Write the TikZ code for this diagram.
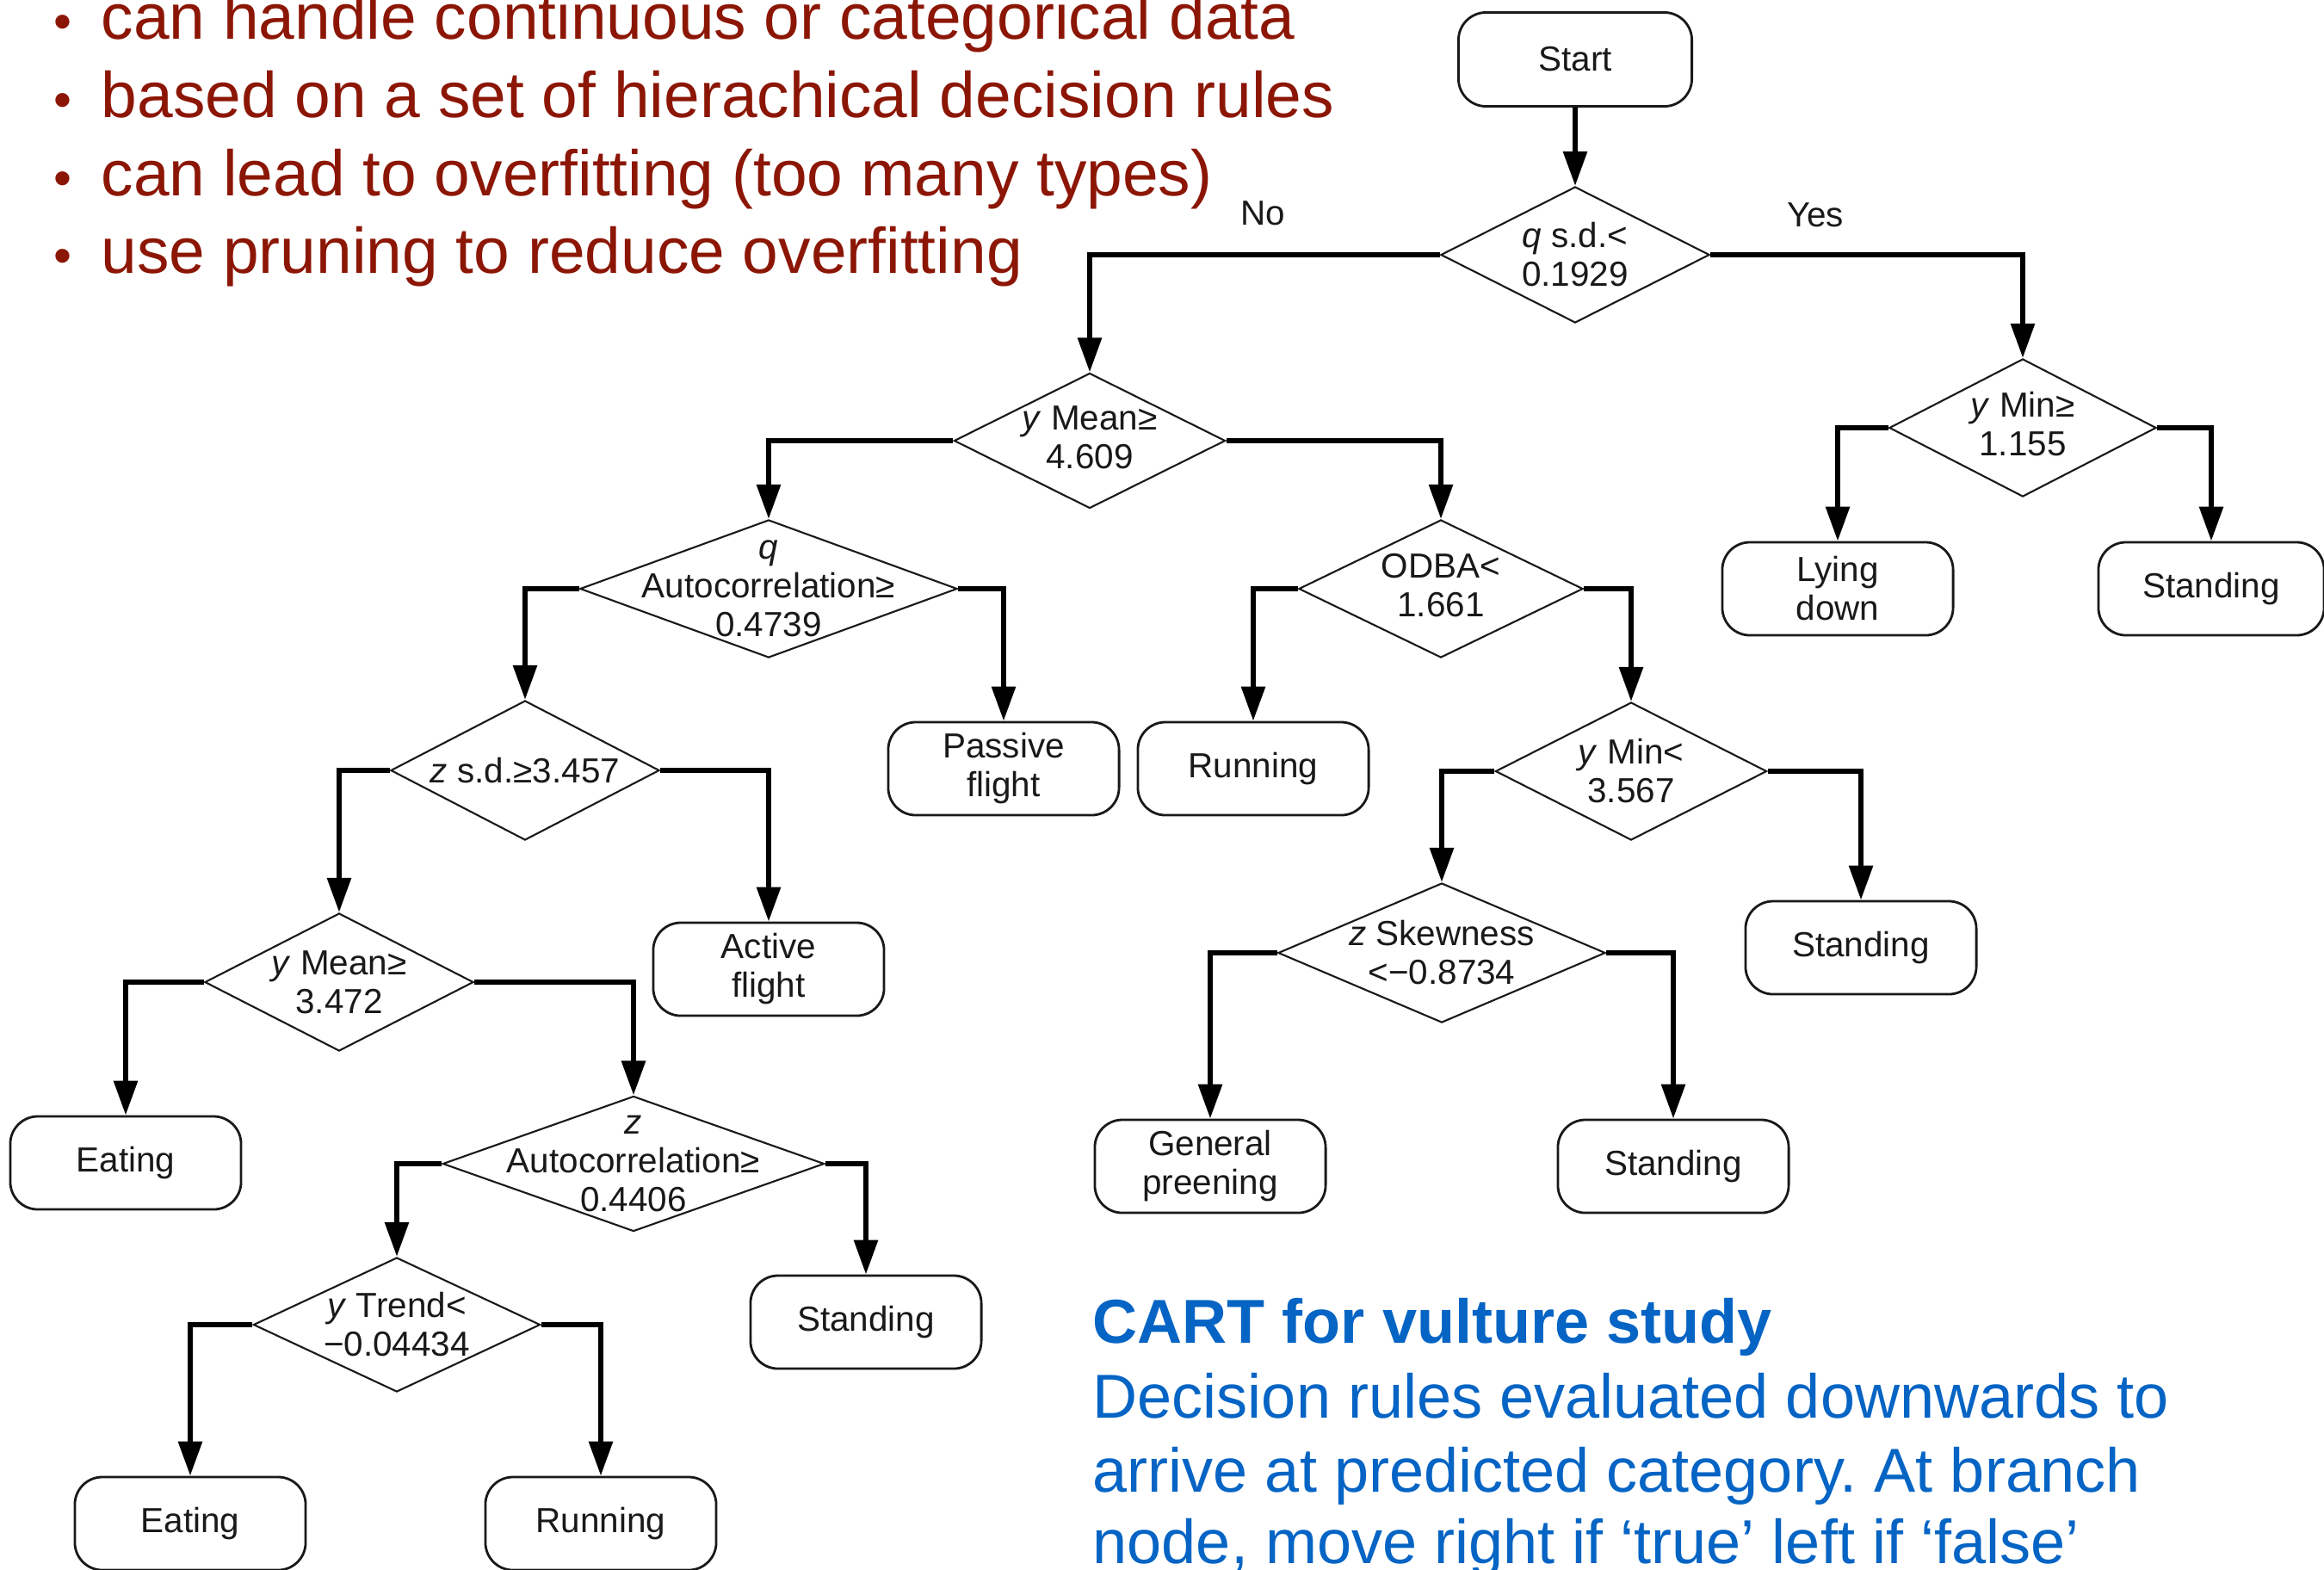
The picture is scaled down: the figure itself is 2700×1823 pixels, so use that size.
\documentclass[tikz,border=0pt]{standalone}
\usepackage{fontspec}
\setmainfont{Liberation Sans}
\usetikzlibrary{shapes.geometric,arrows.meta}
\frenchspacing

\definecolor{bulletred}{RGB}{140,22,5}
\definecolor{capblue}{RGB}{5,100,196}
\definecolor{ink}{RGB}{25,25,25}

\newcommand\diagfont{\fontsize{11.5pt}{12.8pt}\selectfont}
\newcommand\bulfont{\fontsize{21.3pt}{25pt}\selectfont}
\newcommand\capfont{\fontsize{20.5pt}{24.5pt}\selectfont}
\newcommand\dotmark{\makebox[0.58cm][l]{\hspace{0.03cm}\fontsize{17pt}{20pt}\selectfont•}}

\begin{document}
\begin{tikzpicture}[x=0.01cm,y=-0.01cm,
  dec/.style={draw=ink, line width=0.6pt, shape=diamond, inner sep=0pt},
  term/.style={draw=ink, line width=0.8pt, rounded corners=0.32cm,
    minimum width=2.68cm, minimum height=1.08cm, inner sep=0pt,
    align=center, font=\diagfont, text=ink},
  dtext/.style={align=center, font=\diagfont, text=ink, inner sep=0pt},
  link/.style={draw=black, line width=1.7pt,
    -{Triangle[length=0.40cm,width=0.27cm]}},
  bul/.style={anchor=base west, font=\bulfont, text=bulletred, inner sep=0pt},
  captext/.style={anchor=base west, font=\capfont, text=capblue, inner sep=0pt}
]
\useasboundingbox (0,0) rectangle (2700,1823);
\clip (0,0) rectangle (2700,1823);

% bullet list
\node[bul] (b1) at (59,45)  {\dotmark can handle continuous or categorical data};
\node[bul] (b2) at (59,136) {\dotmark based on a set of hierachical decision rules};
\node[bul] (b3) at (59,227) {\dotmark can lead to overfitting (too many types)};
\node[bul] (b4) at (59,317) {\dotmark use pruning to reduce overfitting};

% caption
\node[captext] (c1) at (1269,1560) {\textbf{CART for vulture study}};
\node[captext] (c2) at (1269,1647) {Decision rules evaluated downwards to};
\node[captext] (c3) at (1269,1733) {arrive at predicted category. At branch};
\node[captext] (c4) at (1269,1816) {node, move right if ‘true’ left if ‘false’};

% decision diamonds
\node[dec, minimum width=3.12cm, minimum height=1.58cm] (d1)     at (1830,296)  {};
\node[dec, minimum width=3.10cm, minimum height=1.60cm] (ymin1)  at (2350,497)  {};
\node[dec, minimum width=3.15cm, minimum height=1.57cm] (ymean1) at (1266,512)  {};
\node[dec, minimum width=4.38cm, minimum height=1.60cm] (qauto)  at (893,684)   {};
\node[dec, minimum width=3.30cm, minimum height=1.60cm] (odba)   at (1674,684)  {};
\node[dec, minimum width=3.12cm, minimum height=1.62cm] (zsd)    at (610,895)   {};
\node[dec, minimum width=3.15cm, minimum height=1.60cm] (ymin2)  at (1895,896)  {};
\node[dec, minimum width=3.12cm, minimum height=1.60cm] (ymean2) at (394,1141)  {};
\node[dec, minimum width=4.43cm, minimum height=1.57cm] (zauto)  at (736,1352)  {};
\node[dec, minimum width=3.33cm, minimum height=1.56cm] (ytrend) at (461,1539)  {};
\node[dec, minimum width=3.80cm, minimum height=1.62cm] (zskew)  at (1675,1107) {};

% diamond texts
\node[dtext] (t1)  at (d1)     {\textit{q} s.d.<\\0.1929};
\node[dtext] (t2)  at ([yshift=0.04cm]ymin1.center)  {\textit{y} Min≥\\1.155};
\node[dtext] (t3)  at ([yshift=0.04cm]ymean1.center) {\textit{y} Mean≥\\4.609};
\node[dtext] (t4)  at (qauto)  {\textit{q}\\Autocorrelation≥\\0.4739};
\node[dtext] (t5)  at ([yshift=0.04cm]odba.center)   {ODBA<\\1.661};
\node[dtext] (t6)  at (zsd)    {\textit{z} s.d.≥3.457};
\node[dtext] (t7)  at (ymin2)  {\textit{y} Min<\\3.567};
\node[dtext] (t8)  at (ymean2) {\textit{y} Mean≥\\3.472};
\node[dtext] (t9)  at (zauto)  {\textit{z}\\Autocorrelation≥\\0.4406};
\node[dtext] (t10) at (ytrend) {\textit{y} Trend<\\−0.04434};
\node[dtext] (t11) at (zskew)  {\textit{z} Skewness\\<−0.8734};

% branch labels
\node[dtext] (no)  at (1467,248) {No};
\node[dtext] (yes) at (2109,250) {Yes};

% terminal boxes
\node[term, minimum width=2.71cm, minimum height=1.09cm] (start) at (1830,69) {Start};
\node[term] (lying)    at (2135,684)  {Lying\\down};
\node[term, minimum width=2.62cm] (standA) at (2569,684) {Standing};
\node[term] (passive)  at (1166,893)  {Passive\\flight};
\node[term] (running1) at (1456,893)  {Running};
\node[term] (active)   at (893,1126)  {Active\\flight};
\node[term] (standB)   at (2162,1101) {Standing};
\node[term] (eating1)  at (146,1351)  {Eating};
\node[term] (standC)   at (1006,1536) {Standing};
\node[term] (preen)    at (1406,1355) {General\\preening};
\node[term] (standD)   at (1944,1355) {Standing};
\node[term] (eating2)  at (221,1770)  {Eating};
\node[term] (running2) at (698,1770)  {Running};

% connectors
\draw[link] (start.south) -- (d1.north);
\draw[link] (d1.west) -| (ymean1.north);
\draw[link] (d1.east) -| (ymin1.north);
\draw[link] (ymin1.west) -| (lying.north);
\draw[link] (ymin1.east) -| (standA.north);
\draw[link] (ymean1.west) -| (qauto.north);
\draw[link] (ymean1.east) -| (odba.north);
\draw[link] (qauto.west) -| (zsd.north);
\draw[link] (qauto.east) -| (passive.north);
\draw[link] (odba.west) -| (running1.north);
\draw[link] (odba.east) -| (ymin2.north);
\draw[link] (zsd.west) -| (ymean2.north);
\draw[link] (zsd.east) -| (active.north);
\draw[link] (ymin2.west) -| (zskew.north);
\draw[link] (ymin2.east) -| (standB.north);
\draw[link] (ymean2.west) -| (eating1.north);
\draw[link] (ymean2.east) -| (zauto.north);
\draw[link] (zskew.west) -| (preen.north);
\draw[link] (zskew.east) -| (standD.north);
\draw[link] (zauto.west) -| (ytrend.north);
\draw[link] (zauto.east) -| (standC.north);
\draw[link] (ytrend.west) -| (eating2.north);
\draw[link] (ytrend.east) -| (running2.north);
\end{tikzpicture}
\end{document}
